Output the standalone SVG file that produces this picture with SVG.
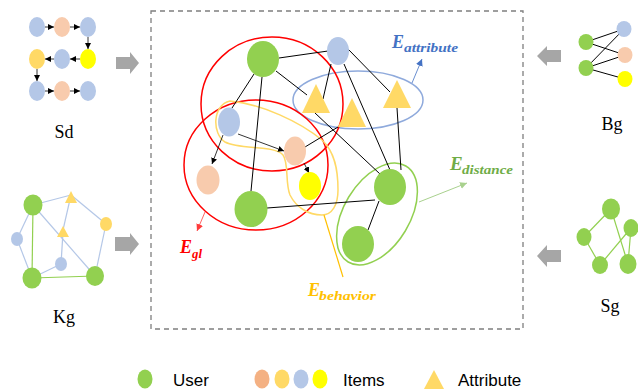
<svg xmlns="http://www.w3.org/2000/svg" width="638" height="390" viewBox="0 0 638 390">
  <style>
    .user { fill: #92D050; }
    .iblue { fill: #B4C7E7; }
    .ipeach { fill: #F8CBAD; }
    .iyel { fill: #FFFF00; }
    .iorg { fill: #FFD966; }
    .attr { fill: #FFD966; }
    .edge { stroke: #000; stroke-width: 1; fill: none; }
    .arr { stroke: #000; stroke-width: 0.8; fill: none; marker-end: url(#ah); }
    .kedge { stroke: #B4C7E7; stroke-width: 1.2; fill: none; }
    .gedge { stroke: #92D050; stroke-width: 1.2; fill: none; }
    .block { fill: #A6A6A6; }
    .cap { font-family: "Liberation Serif", "Times New Roman", serif; font-size: 18px; fill: #000; text-anchor: middle; }
    .leg { font-family: "Liberation Sans", Arial, sans-serif; font-size: 17px; fill: #000; }
    .eb { font-family: "Liberation Serif", "DejaVu Serif", serif; font-weight: bold; font-style: italic; }
  </style>
  <defs>
    <marker id="ah" viewBox="0 0 10 10" refX="10" refY="5" markerWidth="6" markerHeight="6" markerUnits="userSpaceOnUse" orient="auto">
      <path d="M0,0 L10,5 L0,10 Z" fill="#000"/>
    </marker>
    <marker id="ahRed" viewBox="0 0 10 10" refX="10" refY="5" markerWidth="7" markerHeight="7" markerUnits="userSpaceOnUse" orient="auto">
      <path d="M0,0 L10,5 L0,10 Z" fill="#FF3B3B"/>
    </marker>
    <marker id="ahBlue" viewBox="0 0 10 10" refX="10" refY="5" markerWidth="7" markerHeight="7" markerUnits="userSpaceOnUse" orient="auto">
      <path d="M0,0 L10,5 L0,10 Z" fill="#4472C4"/>
    </marker>
    <marker id="ahGreen" viewBox="0 0 10 10" refX="10" refY="5" markerWidth="7" markerHeight="7" markerUnits="userSpaceOnUse" orient="auto">
      <path d="M0,0 L10,5 L0,10 Z" fill="#A9D18E"/>
    </marker>
  </defs>

  <rect x="0" y="0" width="638" height="390" fill="#fff"/>

  <!-- central frame -->
  <rect id="frame" x="151" y="11" width="372" height="318" fill="none" stroke="#7F7F7F" stroke-width="1.3" stroke-dasharray="5,4"/>

  <!-- ===== Sd: sequential data ===== -->
  <g id="sd">
    <g id="sd-edges">
      <line class="arr" x1="45" y1="27" x2="54" y2="27"/>
      <line class="arr" x1="70" y1="27" x2="80" y2="27"/>
      <line class="arr" x1="88" y1="37" x2="88" y2="49"/>
      <line class="arr" x1="80" y1="59" x2="70" y2="59"/>
      <line class="arr" x1="54" y1="59" x2="45" y2="59"/>
      <line class="arr" x1="37" y1="69" x2="37" y2="81"/>
      <line class="arr" x1="45" y1="91" x2="54" y2="91"/>
      <line class="arr" x1="70" y1="91" x2="80" y2="91"/>
    </g>
    <ellipse class="iblue" cx="37" cy="27" rx="8" ry="10"/>
    <ellipse class="ipeach" cx="62" cy="27" rx="8" ry="10"/>
    <ellipse class="iblue" cx="88" cy="27" rx="8" ry="10"/>
    <ellipse class="iorg" cx="37" cy="59" rx="8" ry="10"/>
    <ellipse class="iblue" cx="62" cy="59" rx="8" ry="10"/>
    <ellipse class="iyel" cx="88" cy="59" rx="8" ry="10"/>
    <ellipse class="iblue" cx="37" cy="91" rx="8" ry="10"/>
    <ellipse class="ipeach" cx="62" cy="91" rx="8" ry="10"/>
    <ellipse class="iblue" cx="88" cy="91" rx="8" ry="10"/>
    <text class="cap" x="64" y="138">Sd</text>
  </g>
  <polygon class="block" points="116,57 130,57 130,52 139,63 130,74 130,69 116,69"/>

  <!-- ===== Kg: knowledge graph ===== -->
  <g id="kg">
    <g id="kg-edges">
      <line class="kedge" x1="33" y1="205" x2="71" y2="195"/>
      <line class="kedge" x1="71" y1="195" x2="106" y2="224"/>
      <line class="kedge" x1="106" y1="224" x2="95" y2="276"/>
      <line class="kedge" x1="33" y1="205" x2="17" y2="239"/>
      <line class="kedge" x1="17" y1="239" x2="32" y2="278"/>
      <line class="kedge" x1="33" y1="205" x2="95" y2="276"/>
      <line class="kedge" x1="71" y1="195" x2="63" y2="230"/>
      <line class="kedge" x1="63" y1="232" x2="61" y2="264"/>
      <line class="kedge" x1="61" y1="264" x2="32" y2="278"/>
      <line class="gedge" x1="33" y1="205" x2="32" y2="278"/>
      <line class="gedge" x1="32" y1="278" x2="95" y2="276"/>
    </g>
    <ellipse class="user" cx="33" cy="205" rx="9.5" ry="10.5"/>
    <polygon class="attr" points="71,191 77,203 65,203"/>
    <ellipse class="iorg" cx="106" cy="224" rx="6" ry="7"/>
    <ellipse class="iblue" cx="17" cy="239" rx="6" ry="7"/>
    <polygon class="attr" points="63,226 69,237 57,237"/>
    <ellipse class="iblue" cx="61" cy="264" rx="6" ry="7"/>
    <ellipse class="user" cx="32" cy="278" rx="9.5" ry="10.5"/>
    <ellipse class="user" cx="95" cy="276" rx="9" ry="10"/>
    <text class="cap" x="64" y="323">Kg</text>
  </g>
  <polygon class="block" points="115,237 130,237 130,233 139,244 130,255 130,251 115,251"/>

  <!-- ===== Bg: bipartite graph ===== -->
  <g id="bg">
    <g id="bg-edges">
      <line class="edge" x1="586" y1="42" x2="624" y2="29"/>
      <line class="edge" x1="586" y1="42" x2="625" y2="55"/>
      <line class="edge" x1="586" y1="68" x2="624" y2="29"/>
      <line class="edge" x1="586" y1="68" x2="625" y2="55"/>
      <line class="edge" x1="586" y1="68" x2="625" y2="79"/>
    </g>
    <ellipse class="user" cx="586" cy="42" rx="7.5" ry="8"/>
    <ellipse class="user" cx="586" cy="68" rx="7.5" ry="8"/>
    <ellipse class="iblue" cx="624" cy="29" rx="7.5" ry="8"/>
    <ellipse class="ipeach" cx="625" cy="55" rx="7.5" ry="8"/>
    <ellipse class="iyel" cx="625" cy="79" rx="7.5" ry="8"/>
    <text class="cap" x="612" y="130">Bg</text>
  </g>
  <polygon class="block" points="537,56 547,46 547,50 561,50 561,62 547,62 547,66"/>

  <!-- ===== Sg: social graph ===== -->
  <g id="sg">
    <g id="sg-edges">
      <line class="gedge" x1="611" y1="209" x2="584" y2="237"/>
      <line class="gedge" x1="611" y1="209" x2="628" y2="264"/>
      <line class="gedge" x1="584" y1="237" x2="600" y2="265"/>
      <line class="gedge" x1="600" y1="265" x2="631" y2="228"/>
      <line class="gedge" x1="631" y1="228" x2="628" y2="264"/>
    </g>
    <ellipse class="user" cx="611" cy="209" rx="9" ry="10.5"/>
    <ellipse class="user" cx="584" cy="237" rx="7.5" ry="9"/>
    <ellipse class="user" cx="631" cy="228" rx="7.5" ry="9"/>
    <ellipse class="user" cx="600" cy="265" rx="8" ry="9"/>
    <ellipse class="user" cx="628" cy="264" rx="8.5" ry="10"/>
    <text class="cap" x="610" y="312">Sg</text>
  </g>
  <polygon class="block" points="537,256 547,245 547,250 561,250 561,262 547,262 547,267"/>

  <!-- ===== central heterogeneous graph ===== -->
  <!-- hyperedge outlines -->
  <g id="hyperedges" fill="none">
    <ellipse id="h-attr" cx="358" cy="100" rx="65" ry="29" stroke="#8FAADC" stroke-width="1.5"/>
    <ellipse id="h-gl1" cx="272" cy="104" rx="71" ry="67" stroke="#FF0000" stroke-width="1.5"/>
    <ellipse id="h-gl2" cx="256" cy="165" rx="72" ry="65" stroke="#FF0000" stroke-width="1.5"/>
    <path id="h-beh" d="M230,101 C262,104 300,122 322,140 C335,152 338,170 338,190 C338,205 332,215 322,215 C308,215 296,207 290,195 C285,183 289,163 283,155 C275,145 240,150 225,142 C212,134 212,105 230,101 Z" stroke="#FFD966" stroke-width="1.5"/>
    <line x1="324" y1="215" x2="343" y2="277" stroke="#FFC000" stroke-width="1.2"/>
    <ellipse id="h-dist" cx="377" cy="214" rx="56" ry="33" transform="rotate(-59 377 214)" stroke="#92D050" stroke-width="1.5"/>
  </g>

  <!-- connectors -->
  <g id="connectors">
    <line class="edge" x1="279" y1="58" x2="328" y2="51"/>
    <line class="edge" x1="276" y1="71" x2="307" y2="95"/>
    <line class="edge" x1="254" y1="74" x2="232" y2="108"/>
    <line class="edge" x1="262" y1="77" x2="251" y2="191"/>
    <line class="edge" x1="331" y1="64" x2="323" y2="99"/>
    <line class="edge" x1="344" y1="64" x2="390" y2="170"/>
    <line class="edge" x1="348" y1="49" x2="390" y2="92"/>
    <line class="edge" x1="315" y1="113" x2="380" y2="174"/>
    <line class="edge" x1="397" y1="108" x2="401" y2="170"/>
    <line class="edge" x1="305" y1="147" x2="338" y2="127"/>
    <line class="edge" x1="267" y1="208" x2="375" y2="200"/>
    <line class="edge" x1="379" y1="201" x2="368" y2="230"/>
    <line class="arr" x1="238" y1="134" x2="284" y2="151"/>
    <line class="arr" x1="223" y1="135" x2="212" y2="164"/>
    <line class="arr" x1="304" y1="163" x2="309" y2="173"/>
    <!-- label pointers -->
    <line x1="205" y1="212" x2="197" y2="231" stroke="#FF3B3B" stroke-width="0.8" marker-end="url(#ahRed)"/>
    <line x1="412" y1="83" x2="422" y2="59" stroke="#4472C4" stroke-width="0.8" marker-end="url(#ahBlue)"/>
    <line x1="419" y1="202" x2="467" y2="183" stroke="#A9D18E" stroke-width="1" marker-end="url(#ahGreen)"/>
  </g>

  <!-- nodes -->
  <g id="u1"><ellipse class="user" cx="263" cy="59" rx="16" ry="18"/></g>
  <g id="i1"><ellipse class="iblue" cx="338" cy="51" rx="11" ry="14"/></g>
  <g id="a1"><polygon class="attr" points="316,84 330,113 302,113"/></g>
  <g id="a2"><polygon class="attr" points="352,98 366,127 338,127"/></g>
  <g id="a3"><polygon class="attr" points="397,80 411,108 383,108"/></g>
  <g id="i2"><ellipse class="iblue" cx="229" cy="122" rx="11" ry="14.5"/></g>
  <g id="i3"><ellipse class="ipeach" cx="295" cy="151" rx="11" ry="14.5"/></g>
  <g id="i4"><ellipse class="ipeach" cx="208" cy="180" rx="11.5" ry="14.5"/></g>
  <g id="i5"><ellipse class="iyel" cx="310" cy="186" rx="11" ry="14"/></g>
  <g id="u2"><ellipse class="user" cx="251" cy="209" rx="16.5" ry="18"/></g>
  <g id="u3"><ellipse class="user" cx="390" cy="187" rx="16" ry="18"/></g>
  <g id="u4"><ellipse class="user" cx="358" cy="244" rx="16" ry="18"/></g>

  <!-- hyperedge labels -->
  <g id="lbl-attr" class="eb" fill="#4472C4">
    <text x="392" y="48" font-size="18">E</text>
    <text x="404" y="52" font-size="13" textLength="54" lengthAdjust="spacingAndGlyphs">attribute</text>
  </g>
  <g id="lbl-dist" class="eb" fill="#70AD47">
    <text x="450" y="170" font-size="19">E</text>
    <text x="462" y="174" font-size="13" textLength="51" lengthAdjust="spacingAndGlyphs">distance</text>
  </g>
  <g id="lbl-beh" class="eb" fill="#FFC000">
    <text x="308" y="296" font-size="18">E</text>
    <text x="319" y="300" font-size="13" textLength="57" lengthAdjust="spacingAndGlyphs">behavior</text>
  </g>
  <g id="lbl-gl" class="eb" fill="#FF0000">
    <text x="180" y="253" font-size="18">E</text>
    <text x="192" y="258" font-size="13" textLength="10" lengthAdjust="spacingAndGlyphs">gl</text>
  </g>

  <!-- legend -->
  <g id="legend">
    <ellipse class="user" cx="145" cy="379" rx="7.5" ry="9.5"/>
    <text class="leg" x="173" y="386">User</text>
    <ellipse cx="262" cy="379" rx="7.5" ry="9.5" fill="#F4B183"/>
    <ellipse class="iorg" cx="282" cy="379" rx="7.5" ry="9.5"/>
    <ellipse class="iblue" cx="301" cy="379" rx="7.5" ry="9.5"/>
    <ellipse class="iyel" cx="320" cy="379" rx="7.5" ry="9.5"/>
    <text class="leg" x="343" y="386">Items</text>
    <polygon class="attr" points="434,370 444,389 424,389"/>
    <text class="leg" x="458" y="386">Attribute</text>
  </g>
</svg>
